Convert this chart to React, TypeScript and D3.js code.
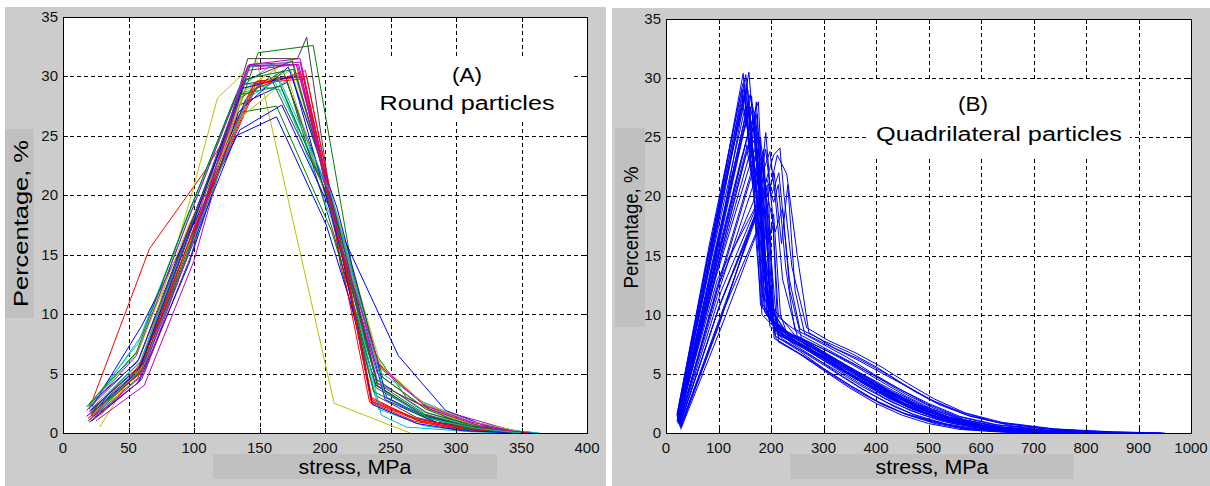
import React, { useEffect, useRef } from "react";
import * as d3 from "d3";

const width = 1210;
const height = 486;

// MATLAB's old default colour order: b g r c m y k
const lineColors = ["#0000ff", "#008000", "#ff0000", "#00bfbf", "#bf00bf", "#bfbf00", "#404040"];

const pctTicks = [0, 5, 10, 15, 20, 25, 30, 35];
const roundStressTicks = [0, 50, 100, 150, 200, 250, 300, 350, 400];
const quadStressTicks = [0, 100, 200, 300, 400, 500, 600, 700, 800, 900, 1000];

// (A) round particles, each curve is a list of [stress MPa, percentage]
const roundSeries: number[][][] = [
  [[20, 2.4], [57, 6.0], [95, 17.0], [133, 27.5], [171, 29.5], [208, 18.5], [246, 2.8], [284, 0.9], [322, 0.3], [360, 0]],
  [[24, 1.6], [62, 5.5], [100, 16.5], [149, 32.0], [191, 32.6], [230, 8.0], [262, 3.0], [295, 1.2], [328, 0.3], [362, 0]],
  [[20, 2.0], [66, 15.5], [108, 22.0], [150, 29.5], [182, 30.0], [218, 13.0], [236, 2.8], [270, 1.2], [305, 0.4], [350, 0]],
  [[19, 2.2], [57, 7.5], [96, 18.5], [134, 29.0], [160, 31.0], [205, 18.0], [240, 4.5], [275, 1.8], [310, 0.6], [345, 0.1]],
  [[21, 1.5], [58, 5.2], [96, 16.0], [141, 30.8], [180, 31.0], [210, 16.0], [240, 5.0], [275, 2.2], [310, 0.8], [345, 0.1]],
  [[28, 0.5], [62, 6.5], [98, 20.0], [118, 28.2], [148, 31.3], [207, 2.5], [265, 0]],
  [[22, 1.0], [60, 4.5], [98, 15.0], [141, 31.5], [179, 31.5], [186, 33.3], [212, 14.0], [238, 3.2], [270, 1.3], [305, 0.4], [340, 0]],
  [[18, 1.4], [56, 5.0], [94, 14.5], [132, 25.0], [163, 26.6], [201, 17.5], [239, 4.0], [277, 1.4], [315, 0.4], [353, 0]],
  [[23, 2.0], [61, 6.2], [99, 18.0], [137, 27.0], [163, 27.5], [205, 17.0], [240, 4.2], [276, 1.6], [312, 0.5], [348, 0]],
  [[20, 1.8], [58, 5.6], [97, 17.5], [145, 29.3], [183, 30.2], [216, 12.5], [234, 2.6], [268, 1.0], [302, 0.3], [352, 0]],
  [[24, 2.6], [60, 8.2], [98, 19.0], [136, 29.5], [168, 28.8], [203, 19.5], [241, 2.0], [276, 0.6], [311, 0.1], [346, 0]],
  [[25, 1.0], [62, 4.0], [100, 14.5], [142, 31.0], [181, 31.2], [214, 15.0], [238, 6.0], [275, 2.5], [310, 1.0], [350, 0.1]],
  [[22, 1.3], [60, 5.2], [98, 16.5], [140, 29.0], [175, 31.5], [210, 17.5], [242, 4.8], [278, 2.0], [312, 0.7], [345, 0]],
  [[21, 1.8], [59, 5.4], [97, 16.8], [137, 29.3], [170, 30.0], [206, 17.0], [239, 3.8], [274, 1.6], [309, 0.5], [345, 0]],
  [[22, 2.2], [60, 9.0], [97, 17.0], [135, 25.5], [167, 27.6], [256, 6.5], [292, 1.9], [330, 0.3], [362, 0]],
  [[19, 1.0], [57, 4.6], [95, 15.0], [133, 28.0], [168, 30.5], [204, 19.0], [237, 3.5], [272, 1.5], [306, 0.4], [342, 0]],
  [[21, 1.6], [59, 5.0], [97, 16.2], [148, 29.6], [186, 30.0], [220, 11.5], [236, 2.6], [272, 1.0], [310, 0.2], [355, 0]],
  [[20, 2.3], [57, 6.8], [95, 17.8], [133, 28.5], [162, 29.5], [203, 20.5], [243, 1.5], [262, 0.5], [300, 0.2], [338, 0]],
  [[18, 1.9], [56, 6.5], [94, 17.5], [140, 30.5], [178, 31.0], [208, 18.5], [240, 4.2], [272, 2.4], [305, 1.4], [340, 0.3]],
  [[26, 1.1], [62, 5.8], [99, 16.8], [138, 28.8], [174, 30.5], [209, 18.5], [243, 5.5], [277, 2.3], [310, 0.8], [343, 0]],
  [[23, 1.4], [61, 5.8], [99, 16.0], [139, 28.0], [158, 30.0], [200, 20.5], [239, 4.5], [278, 1.7], [318, 0.5], [357, 0]],
  [[20, 0.9], [58, 4.3], [96, 14.2], [134, 27.0], [172, 30.8], [209, 19.0], [247, 3.0], [285, 0.9], [323, 0.2], [361, 0]],
  [[22, 1.7], [60, 5.3], [98, 16.2], [140, 29.8], [176, 30.6], [210, 17.8], [244, 4.7], [277, 2.0], [311, 0.6], [345, 0.1]],
  [[19, 1.2], [57, 4.9], [95, 15.8], [147, 29.0], [185, 30.5], [218, 13.0], [235, 3.0], [270, 1.1], [306, 0.3], [350, 0]],
  [[21, 2.0], [59, 6.0], [97, 17.2], [142, 30.8], [175, 31.2], [207, 19.0], [241, 5.2], [275, 2.6], [310, 1.0], [345, 0.2], [364, 0]],
  [[24, 1.3], [62, 5.0], [100, 16.4], [143, 31.0], [181, 31.5], [213, 15.5], [241, 5.8], [280, 2.0], [318, 0.6], [350, 0]],
  [[20, 2.5], [58, 7.0], [96, 17.5], [135, 26.5], [172, 29.8], [206, 18.0], [240, 6.0], [275, 2.5], [310, 1.0], [345, 0.2]],
  [[20, 2.1], [58, 6.2], [96, 17.0], [138, 29.6], [175, 31.3], [208, 18.4], [240, 4.0], [276, 1.5], [312, 0.5], [348, 0]],
  [[21, 1.9], [59, 5.6], [97, 17.0], [137, 29.0], [175, 30.0], [212, 15.5], [236, 2.4], [270, 0.8], [305, 0.2], [345, 0]],
  [[18, 2.2], [56, 6.8], [94, 18.0], [132, 28.4], [166, 29.2], [204, 19.5], [240, 4.0], [275, 1.4], [310, 0.4], [346, 0]],
  [[22, 1.4], [60, 5.2], [98, 16.7], [146, 29.4], [184, 29.8], [219, 12.0], [235, 2.7], [270, 1.2], [305, 0.5], [355, 0]],
  [[23, 1.5], [61, 5.5], [99, 16.0], [141, 28.2], [165, 29.8], [205, 20.0], [245, 3.5], [280, 1.2], [315, 0.4], [350, 0]],
  [[20, 1.1], [57, 4.2], [95, 14.8], [141, 30.9], [179, 31.0], [211, 16.0], [242, 5.5], [276, 2.3], [312, 0.9], [346, 0.1]],
];

// (B) quadrilateral particles, all drawn in blue
const quadSeries: number[][][] = [
  [[21, 1.0], [85, 15.5], [147, 30.4], [158, 24.0], [170, 27.0], [185, 14.0], [200, 9.5], [250, 7.6], [300, 6.4], [350, 5.0], [400, 3.8], [450, 2.6], [500, 1.6], [560, 0.8], [640, 0.3], [720, 0.1], [800, 0]],
  [[22, 1.3], [88, 16.0], [152, 30.3], [160, 23.0], [172, 28.0], [188, 15.5], [205, 9.0], [255, 7.8], [310, 6.0], [360, 4.6], [410, 3.3], [460, 2.2], [520, 1.2], [590, 0.5], [680, 0.2], [780, 0.05], [870, 0]],
  [[24, 0.8], [92, 14.0], [158, 30.5], [166, 26.0], [178, 20.5], [192, 12.0], [210, 8.6], [260, 7.4], [315, 6.2], [370, 4.8], [425, 3.4], [480, 2.2], [540, 1.2], [610, 0.5], [700, 0.15], [800, 0]],
  [[23, 1.1], [90, 14.5], [160, 28.6], [168, 27.0], [176, 28.0], [190, 14.5], [215, 8.0], [265, 6.8], [320, 5.4], [375, 3.9], [430, 2.6], [485, 1.6], [545, 0.8], [620, 0.3], [720, 0.1], [830, 0]],
  [[26, 0.9], [100, 12.5], [180, 21.0], [190, 25.4], [200, 20.0], [215, 22.0], [235, 13.0], [255, 8.8], [300, 7.8], [350, 6.8], [400, 5.6], [450, 4.2], [500, 2.9], [560, 1.8], [630, 0.9], [720, 0.4], [820, 0.1], [920, 0]],
  [[25, 0.7], [105, 12.0], [185, 20.5], [205, 23.5], [217, 24.1], [225, 20.0], [240, 14.0], [268, 8.9], [310, 7.8], [360, 6.8], [410, 5.6], [460, 4.2], [510, 2.9], [570, 1.7], [640, 0.9], [740, 0.35], [850, 0.1], [950, 0]],
  [[24, 1.2], [98, 13.0], [175, 19.5], [200, 21.0], [212, 23.5], [230, 21.9], [250, 15.0], [272, 8.5], [320, 7.2], [370, 6.2], [420, 5.0], [470, 3.6], [520, 2.4], [580, 1.4], [660, 0.6], [760, 0.2], [880, 0]],
  [[28, 0.4], [100, 9.0], [170, 18.5], [182, 17.0], [195, 12.0], [210, 7.9], [250, 6.8], [300, 5.3], [350, 3.8], [400, 2.5], [450, 1.5], [500, 0.8], [560, 0.3], [630, 0.1], [700, 0]],
  [[27, 0.5], [102, 9.3], [165, 17.7], [178, 19.5], [190, 13.0], [208, 8.2], [255, 6.9], [305, 5.3], [355, 3.9], [405, 2.6], [455, 1.6], [510, 0.9], [570, 0.4], [650, 0.1], [740, 0]],
  [[22, 1.4], [80, 14.0], [140, 27.0], [150, 28.5], [160, 23.0], [172, 18.0], [188, 10.2], [230, 8.4], [280, 7.2], [330, 5.9], [380, 4.5], [430, 3.2], [480, 2.1], [540, 1.1], [610, 0.5], [700, 0.15], [800, 0]],
  [[21, 1.6], [78, 14.5], [138, 26.0], [148, 27.5], [158, 25.0], [170, 22.0], [182, 11.0], [225, 8.2], [275, 7.0], [325, 5.6], [375, 4.2], [425, 2.9], [475, 1.9], [535, 1.0], [600, 0.4], [690, 0.1], [780, 0]],
  [[23, 1.0], [86, 13.5], [145, 25.0], [155, 26.5], [165, 21.0], [175, 23.0], [186, 12.5], [205, 9.2], [255, 7.5], [305, 6.2], [355, 4.9], [405, 3.6], [455, 2.4], [510, 1.4], [580, 0.6], [670, 0.2], [770, 0]],
  [[22, 0.9], [84, 12.5], [142, 23.0], [152, 24.5], [162, 22.0], [174, 20.0], [184, 10.6], [220, 8.0], [270, 6.6], [320, 5.2], [370, 3.8], [420, 2.6], [470, 1.6], [530, 0.8], [600, 0.3], [690, 0.1], [790, 0]],
  [[24, 1.2], [90, 14.8], [155, 27.5], [163, 28.5], [170, 24.0], [182, 20.0], [192, 10.0], [235, 8.3], [285, 7.1], [335, 5.8], [385, 4.5], [435, 3.3], [485, 2.2], [545, 1.2], [615, 0.5], [710, 0.15], [820, 0]],
  [[25, 0.8], [95, 12.0], [162, 22.0], [172, 21.0], [184, 23.0], [196, 18.0], [206, 9.0], [250, 7.9], [300, 6.6], [350, 5.3], [400, 4.0], [450, 2.8], [500, 1.8], [560, 0.9], [630, 0.4], [730, 0.1], [840, 0]],
  [[26, 0.6], [104, 11.0], [178, 19.0], [192, 21.5], [205, 19.5], [214, 21.0], [228, 14.0], [245, 8.8], [295, 7.6], [345, 6.4], [395, 5.0], [445, 3.7], [495, 2.5], [555, 1.4], [625, 0.7], [720, 0.25], [830, 0.05], [930, 0]],
  [[22, 1.1], [87, 15.0], [150, 29.0], [158, 27.0], [166, 22.5], [176, 24.0], [190, 12.0], [210, 8.4], [260, 7.2], [310, 5.9], [360, 4.6], [410, 3.3], [460, 2.2], [520, 1.2], [590, 0.5], [680, 0.15], [780, 0]],
  [[23, 1.3], [84, 15.0], [146, 28.0], [156, 29.0], [164, 24.5], [176, 19.0], [186, 11.5], [228, 8.6], [278, 7.4], [328, 6.1], [378, 4.8], [428, 3.5], [478, 2.4], [538, 1.3], [608, 0.6], [700, 0.2], [810, 0]],
  [[24, 0.9], [94, 13.8], [160, 26.0], [170, 27.0], [180, 22.0], [190, 18.0], [200, 9.5], [245, 8.0], [295, 6.8], [345, 5.5], [395, 4.2], [445, 3.0], [495, 1.9], [555, 1.0], [625, 0.4], [720, 0.1], [830, 0]],
  [[25, 1.0], [96, 13.5], [165, 24.5], [176, 25.5], [188, 20.5], [198, 16.0], [212, 8.6], [262, 7.4], [312, 6.2], [362, 4.9], [412, 3.6], [462, 2.5], [512, 1.6], [572, 0.8], [642, 0.3], [740, 0.1], [850, 0]],
  [[21, 1.5], [82, 15.8], [144, 29.0], [152, 26.0], [160, 27.5], [172, 16.0], [183, 10.0], [225, 8.1], [275, 6.9], [325, 5.6], [375, 4.3], [425, 3.0], [475, 2.0], [535, 1.1], [605, 0.5], [700, 0.15], [800, 0]],
  [[26, 0.7], [100, 10.5], [172, 18.5], [184, 20.0], [195, 16.0], [205, 18.5], [218, 10.0], [236, 7.7], [286, 6.3], [336, 4.8], [386, 3.4], [436, 2.2], [486, 1.3], [546, 0.6], [616, 0.2], [710, 0]],
  [[22, 1.2], [88, 14.0], [150, 26.5], [160, 27.5], [170, 26.0], [182, 16.5], [194, 9.8], [240, 8.2], [290, 7.0], [340, 5.8], [390, 4.6], [440, 3.4], [490, 2.3], [550, 1.3], [620, 0.6], [715, 0.2], [830, 0.05], [910, 0]],
  [[23, 1.0], [89, 13.0], [153, 24.0], [163, 25.0], [173, 21.0], [185, 22.5], [197, 12.0], [215, 8.3], [265, 7.1], [315, 5.7], [365, 4.3], [415, 3.0], [465, 1.9], [525, 1.0], [595, 0.4], [690, 0.1], [790, 0]],
  [[27, 0.5], [106, 10.0], [182, 18.0], [196, 19.5], [208, 17.0], [222, 19.0], [236, 12.0], [258, 8.0], [308, 6.9], [358, 5.7], [408, 4.4], [458, 3.1], [508, 2.0], [568, 1.1], [638, 0.5], [735, 0.15], [850, 0]],
  [[24, 1.1], [92, 14.2], [156, 27.0], [165, 25.5], [174, 27.0], [186, 15.0], [198, 9.0], [248, 7.7], [298, 6.5], [348, 5.1], [398, 3.8], [448, 2.6], [498, 1.6], [558, 0.8], [628, 0.3], [725, 0.1], [840, 0]],
  [[22, 1.3], [85, 14.8], [149, 28.5], [157, 25.0], [167, 26.5], [179, 18.0], [189, 10.4], [232, 8.5], [282, 7.3], [332, 6.0], [382, 4.7], [432, 3.4], [482, 2.3], [542, 1.3], [612, 0.6], [705, 0.2], [815, 0.05], [900, 0]],
  [[25, 0.9], [97, 12.0], [168, 22.5], [178, 21.5], [190, 24.0], [202, 19.0], [214, 9.8], [260, 8.2], [310, 7.0], [360, 5.8], [410, 4.5], [460, 3.2], [510, 2.1], [570, 1.1], [640, 0.5], [735, 0.15], [845, 0]],
  [[23, 0.8], [90, 12.6], [152, 23.5], [162, 24.0], [172, 20.5], [184, 17.5], [196, 9.6], [242, 7.9], [292, 6.6], [342, 5.2], [392, 3.9], [442, 2.7], [492, 1.7], [552, 0.9], [622, 0.35], [715, 0.1], [820, 0]],
  [[21, 1.4], [81, 15.2], [141, 27.5], [150, 29.5], [158, 24.0], [168, 21.0], [180, 10.8], [222, 8.6], [272, 7.4], [322, 6.1], [372, 4.8], [422, 3.5], [472, 2.3], [532, 1.3], [602, 0.6], [695, 0.2], [805, 0.05], [890, 0]],
  [[26, 0.6], [102, 10.8], [176, 19.2], [188, 22.5], [198, 23.8], [208, 20.0], [222, 13.0], [250, 8.2], [300, 7.1], [350, 6.0], [400, 4.8], [450, 3.6], [500, 2.5], [560, 1.4], [630, 0.7], [725, 0.25], [840, 0.05], [940, 0]],
  [[24, 1.0], [93, 13.2], [160, 24.8], [170, 23.0], [180, 25.0], [192, 19.5], [204, 9.3], [252, 7.9], [302, 6.6], [352, 5.3], [402, 4.0], [452, 2.8], [502, 1.8], [562, 0.9], [632, 0.4], [730, 0.1], [840, 0]],
  [[22, 1.2], [86, 14.6], [148, 27.0], [158, 28.0], [166, 23.5], [176, 25.0], [188, 13.0], [206, 8.9], [256, 7.6], [306, 6.3], [356, 5.0], [406, 3.7], [456, 2.5], [516, 1.4], [586, 0.6], [680, 0.2], [790, 0]],
  [[28, 0.3], [104, 8.8], [174, 17.0], [186, 19.0], [196, 14.0], [206, 8.0], [252, 6.8], [302, 5.4], [352, 4.0], [402, 2.7], [452, 1.7], [506, 1.0], [566, 0.4], [640, 0.1], [730, 0]],
  [[23, 0.9], [91, 13.5], [157, 25.5], [166, 26.5], [176, 22.5], [186, 24.0], [199, 11.5], [218, 8.3], [268, 7.1], [318, 5.8], [368, 4.5], [418, 3.2], [468, 2.1], [528, 1.1], [598, 0.5], [690, 0.15], [800, 0]],
  [[25, 0.8], [99, 11.8], [170, 21.5], [182, 23.0], [194, 20.0], [206, 22.0], [220, 16.0], [232, 21.0], [246, 12.0], [264, 8.4], [314, 7.3], [364, 6.2], [414, 5.0], [464, 3.8], [514, 2.6], [574, 1.5], [644, 0.8], [740, 0.3], [850, 0.08], [945, 0]],
  [[22, 1.5], [83, 15.5], [146, 29.5], [154, 30.0], [162, 24.0], [172, 20.0], [184, 11.5], [226, 8.7], [276, 7.5], [326, 6.2], [376, 4.9], [426, 3.6], [476, 2.5], [536, 1.4], [606, 0.6], [700, 0.2], [810, 0.05], [900, 0]],
  [[24, 1.1], [94, 13.0], [162, 23.0], [172, 22.0], [183, 19.5], [194, 21.0], [205, 10.5], [245, 8.3], [295, 7.0], [345, 5.6], [395, 4.2], [445, 2.9], [495, 1.9], [555, 1.0], [625, 0.4], [720, 0.1], [830, 0]],
  [[27, 0.5], [103, 9.8], [170, 18.0], [180, 18.8], [192, 16.0], [204, 17.5], [214, 7.7], [262, 6.5], [312, 5.0], [362, 3.6], [412, 2.4], [462, 1.5], [512, 0.8], [572, 0.3], [642, 0.1], [730, 0]],
  [[23, 1.2], [89, 14.0], [154, 26.8], [164, 27.8], [174, 23.0], [186, 17.0], [196, 9.9], [238, 8.2], [288, 7.0], [338, 5.7], [388, 4.4], [438, 3.1], [488, 2.0], [548, 1.1], [618, 0.5], [710, 0.15], [820, 0.03], [920, 0]],
];

const font = "'Liberation Sans', Arial, sans-serif";

const panels = [
  {
    id: "A",
    frame: { x: 5, y: 7, w: 601, h: 479 },
    plot: { left: 63, right: 587, top: 17, bottom: 433 },
    xTicks: roundStressTicks,
    series: roundSeries,
    colors: lineColors,
    yBox: { x: 5, y: 129, w: 29, h: 189, len: 167 },
    xBox: { x: 213, y: 454, w: 284, h: 25 },
    note: ["(A)", "Round particles"],
    noteBox: { x: 357, y: 56, w: 216, h: 66 },
    noteX: [467, 467],
    noteY: [75, 103],
    noteLen: [30, 175],
  },
  {
    id: "B",
    frame: { x: 612, y: 8, w: 598, h: 478 },
    plot: { left: 666, right: 1191, top: 19, bottom: 433 },
    xTicks: quadStressTicks,
    series: quadSeries,
    colors: ["#0000ff"],
    yBox: { x: 615, y: 128, w: 30, h: 199, len: 122 },
    xBox: { x: 790, y: 454, w: 284, h: 25 },
    note: ["(B)", "Quadrilateral particles"],
    noteBox: { x: 866, y: 82, w: 264, h: 75 },
    noteX: [973, 999],
    noteY: [104, 134],
    noteLen: [30, 246],
  },
];

const App = () => {
  const ref = useRef<SVGSVGElement | null>(null);

  useEffect(() => {
    const svg = d3.select(ref.current);
    svg.selectAll("*").remove();
    svg.append("rect").attr("width", width).attr("height", height).attr("fill", "#ffffff");

    panels.forEach((p) => {
      const g = svg.append("g");
      const { left, right, top, bottom } = p.plot;
      const x = d3.scaleLinear().domain([0, p.xTicks[p.xTicks.length - 1]]).range([left, right]);
      const y = d3.scaleLinear().domain([0, 35]).range([bottom, top]);

      g.append("rect")
        .attr("x", p.frame.x).attr("y", p.frame.y)
        .attr("width", p.frame.w).attr("height", p.frame.h)
        .attr("fill", "#cccccc");

      // label backgrounds
      g.append("rect")
        .attr("x", p.yBox.x).attr("y", p.yBox.y)
        .attr("width", p.yBox.w).attr("height", p.yBox.h)
        .attr("fill", "#c0c0c0");
      g.append("rect")
        .attr("x", p.xBox.x).attr("y", p.xBox.y)
        .attr("width", p.xBox.w).attr("height", p.xBox.h)
        .attr("fill", "#c0c0c0");

      g.append("rect")
        .attr("x", left).attr("y", top)
        .attr("width", right - left).attr("height", bottom - top)
        .attr("fill", "#ffffff");

      // dashed grid
      const grid = g.append("g").attr("stroke", "#000").attr("stroke-width", 1).attr("stroke-dasharray", "4,3");
      grid.selectAll("line.gx")
        .data(p.xTicks.slice(1, -1))
        .join("line")
        .attr("x1", (d) => Math.round(x(d)) + 0.5).attr("x2", (d) => Math.round(x(d)) + 0.5)
        .attr("y1", top).attr("y2", bottom);
      grid.selectAll("line.gy")
        .data(pctTicks.slice(1, -1))
        .join("line")
        .attr("class", "gy")
        .attr("y1", (d) => Math.round(y(d)) + 0.5).attr("y2", (d) => Math.round(y(d)) + 0.5)
        .attr("x1", left).attr("x2", right);

      // curves
      const clipId = `clip-${p.id}`;
      g.append("clipPath").attr("id", clipId)
        .append("rect").attr("x", left).attr("y", top - 1).attr("width", right - left).attr("height", bottom - top + 1);
      const line = d3.line<number[]>().x((d) => x(d[0])).y((d) => y(d[1]));
      g.append("g")
        .attr("clip-path", `url(#${clipId})`)
        .attr("fill", "none")
        .attr("stroke-width", 1)
        .selectAll("path")
        .data(p.series)
        .join("path")
        .attr("stroke", (_, i) => p.colors[i % p.colors.length])
        .attr("d", (d) => line(d));

      // text box of the annotation
      g.append("rect")
        .attr("x", p.noteBox.x).attr("y", p.noteBox.y)
        .attr("width", p.noteBox.w).attr("height", p.noteBox.h)
        .attr("fill", "#ffffff");
      p.note.forEach((t, i) => {
        g.append("text")
          .attr("x", p.noteX[i]).attr("y", p.noteY[i])
          .attr("dy", "0.35em")
          .attr("text-anchor", "middle")
          .attr("font-family", font)
          .attr("font-size", 20)
          .attr("textLength", p.noteLen[i])
          .attr("lengthAdjust", "spacingAndGlyphs")
          .attr("fill", "#000")
          .text(t);
      });

      // box and inward ticks
      g.append("rect")
        .attr("x", left + 0.5).attr("y", top + 0.5)
        .attr("width", right - left).attr("height", bottom - top)
        .attr("fill", "none").attr("stroke", "#000");
      const ticks = g.append("g").attr("stroke", "#000");
      p.xTicks.forEach((d) => {
        const px = Math.round(x(d)) + 0.5;
        ticks.append("line").attr("x1", px).attr("x2", px).attr("y1", bottom).attr("y2", bottom - 5);
        ticks.append("line").attr("x1", px).attr("x2", px).attr("y1", top).attr("y2", top + 5);
      });
      pctTicks.forEach((d) => {
        const py = Math.round(y(d)) + 0.5;
        ticks.append("line").attr("y1", py).attr("y2", py).attr("x1", left).attr("x2", left + 5);
        ticks.append("line").attr("y1", py).attr("y2", py).attr("x1", right).attr("x2", right - 5);
      });

      // tick labels
      g.append("g")
        .attr("font-family", font).attr("font-size", 15).attr("fill", "#111")
        .attr("text-anchor", "middle")
        .selectAll("text")
        .data(p.xTicks)
        .join("text")
        .attr("x", (d) => x(d)).attr("y", bottom + 20)
        .text((d) => d);
      g.append("g")
        .attr("font-family", font).attr("font-size", 15).attr("fill", "#111")
        .attr("text-anchor", "end")
        .selectAll("text")
        .data(pctTicks)
        .join("text")
        .attr("x", left - 5).attr("y", (d) => y(d) + 5)
        .text((d) => d);

      // axis titles
      g.append("text")
        .attr("x", p.xBox.x + p.xBox.w / 2).attr("y", p.xBox.y + p.xBox.h / 2)
        .attr("dy", "0.35em")
        .attr("text-anchor", "middle")
        .attr("font-family", font).attr("font-size", 20)
        .attr("textLength", 113).attr("lengthAdjust", "spacingAndGlyphs")
        .text("stress, MPa");
      const cx = p.yBox.x + p.yBox.w / 2 + 1;
      const cy = p.yBox.y + p.yBox.h / 2;
      g.append("text")
        .attr("x", cx).attr("y", cy)
        .attr("dy", "0.35em")
        .attr("text-anchor", "middle")
        .attr("transform", `rotate(-90, ${cx}, ${cy})`)
        .attr("font-family", font).attr("font-size", 20)
        .attr("textLength", p.yBox.len).attr("lengthAdjust", "spacingAndGlyphs")
        .text("Percentage, %");
    });
  }, []);

  return (
    <div style={{ position: "absolute", left: 0, top: 0 }}>
      <svg ref={ref} width={width} height={height} style={{ display: "block" }} />
    </div>
  );
};

export default App;
